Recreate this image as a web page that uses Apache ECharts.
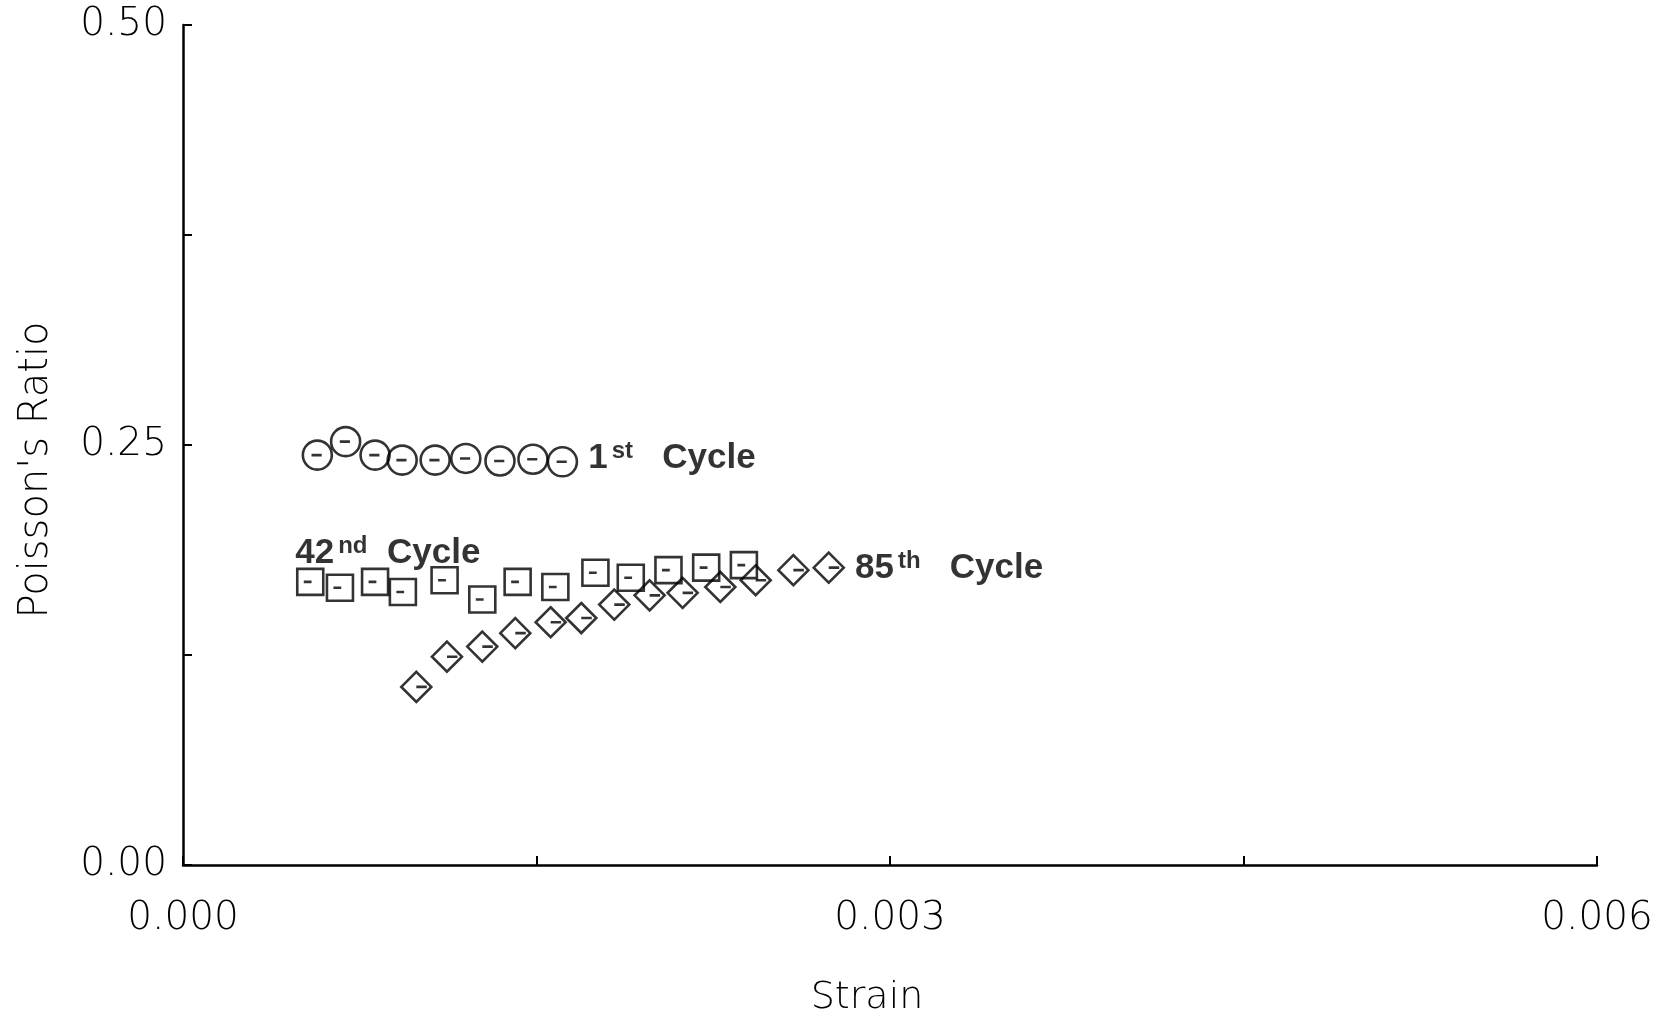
<!DOCTYPE html>
<html>
<head>
<meta charset="utf-8">
<script src="https://cdn.jsdelivr.net/npm/echarts@6/dist/echarts.min.js"></script>
<style>html,body{margin:0;padding:0;background:#fff}#c{width:1665px;height:1019px}</style>
</head>
<body>
<div id="c"></div>
<script>
// Data (strain, Poisson's ratio)
var cycle1Strain = [0.00057, 0.00069, 0.000815, 0.00093, 0.00107, 0.00120, 0.001345, 0.001485, 0.00161];
var cycle1Ratio  = [0.244, 0.252, 0.244, 0.241, 0.241, 0.242, 0.2405, 0.2415, 0.240];

var cycle42Strain = [0.00054, 0.000666, 0.000815, 0.000933, 0.00111, 0.00127, 0.00142, 0.00158, 0.00175, 0.00190, 0.00206, 0.00222, 0.00238];
var cycle42Ratio  = [0.1685, 0.165, 0.1685, 0.1625, 0.1695, 0.158, 0.1685, 0.1655, 0.174, 0.171, 0.1755, 0.177, 0.1785];

var cycle85Strain = [0.00099, 0.00112, 0.00127, 0.00141, 0.00156, 0.00169, 0.00183, 0.00198, 0.00212, 0.00228, 0.00243, 0.00259, 0.00274];
var cycle85Ratio  = [0.106, 0.124, 0.130, 0.138, 0.1445, 0.147, 0.155, 0.1605, 0.162, 0.1655, 0.1695, 0.1755, 0.177];

var xTickLabels = ['0.000', '0.003', '0.006'];
var yTickLabels = ['0.00', '0.25', '0.50'];

var circleSym  = 'path://M0,10 A10,10 0 1,1 20,10 A10,10 0 1,1 0,10 Z M6,10 L13,10';
var squareSym  = 'path://M0,0 L20,0 L20,20 L0,20 Z M5,10 L11,10';
var diamondSym = 'path://M10,0 L20,10 L10,20 L0,10 Z M10,10 L17,10';

var FONT_B = 'Liberation Sans, Arial, Helvetica, sans-serif';
var labelRich = {
  b: {fontFamily: FONT_B, fontWeight: 'bold', fontSize: 35, color: '#000', lineHeight: 36, verticalAlign: 'bottom'},
  s: {fontFamily: FONT_B, fontWeight: 'bold', fontSize: 24, color: '#000', lineHeight: 36, verticalAlign: 'top', padding: [0, 0, 0, 4]}
};

function makeData(xs, ys, labelIdx, label) {
  return xs.map(function (x, i) {
    var d = {value: [x, ys[i]]};
    if (i === labelIdx) d.label = label;
    return d;
  });
}

var FONT_L = 'DejaVu Sans, sans-serif';
var lblStyle = {fontFamily: FONT_L, fontSize: 39, color: '#000', fontWeight: 200};

var chart = echarts.init(document.getElementById('c'), null, {renderer: 'canvas'});
chart.setOption({
  backgroundColor: '#fff',
  animation: false,
  grid: {left: 183, right: 68, top: 25, bottom: 154, containLabel: false, outerBoundsMode: 'none'},
  xAxis: {
    type: 'value', min: 0, max: 0.006, interval: 0.0015,
    name: 'Strain', nameLocation: 'middle', nameGap: 114,
    nameTextStyle: {fontFamily: FONT_L, fontSize: 38, color: '#000', fontWeight: 200, padding: [0, 46, 0, 0]},
    axisLine: {show: true, lineStyle: {color: '#000', width: 2.5}},
    axisTick: {show: true, inside: true, length: 9, lineStyle: {color: '#000', width: 2}},
    splitLine: {show: false},
    axisLabel: Object.assign({margin: 34, formatter: function (v) {
      var k = Math.round(v / 0.003);
      return Math.abs(v / 0.003 - k) < 1e-6 ? xTickLabels[k] : '';
    }}, lblStyle)
  },
  yAxis: {
    type: 'value', min: 0, max: 0.5, interval: 0.125,
    name: "Poisson's Ratio", nameLocation: 'middle', nameGap: 126, nameRotate: 90,
    nameTextStyle: {fontFamily: FONT_L, fontSize: 40, color: '#000', fontWeight: 200, padding: [0, 50, 0, 0]},
    axisLine: {show: true, lineStyle: {color: '#000', width: 2.5}},
    axisTick: {show: true, inside: true, length: 9, lineStyle: {color: '#000', width: 2}},
    splitLine: {show: false},
    axisLabel: Object.assign({margin: 16, formatter: function (v) {
      var k = Math.round(v / 0.25);
      return Math.abs(v / 0.25 - k) < 1e-6 ? yTickLabels[k] : '';
    }}, lblStyle)
  },
  series: [
    {
      name: '1st Cycle', type: 'scatter', symbol: circleSym, symbolSize: 29,
      itemStyle: {color: 'rgba(0,0,0,0)', borderColor: '#000', borderWidth: 2.6},
      data: makeData(cycle1Strain, cycle1Ratio, cycle1Strain.length - 1,
        {show: true, position: 'right', distance: 10, offset: [0, -4], color: '#000', formatter: '{b|1}{s|st}{b|   Cycle}', rich: labelRich})
    },
    {
      name: '42nd Cycle', type: 'scatter', symbol: squareSym, symbolSize: 26,
      itemStyle: {color: 'rgba(0,0,0,0)', borderColor: '#000', borderWidth: 2.6},
      data: makeData(cycle42Strain, cycle42Ratio, 0,
        {show: true, position: 'top', distance: 0, align: 'left', offset: [-15, 3], color: '#000', formatter: '{b|42}{s|nd}{b|  Cycle}', rich: labelRich})
    },
    {
      name: '85th Cycle', type: 'scatter', symbol: diamondSym, symbolSize: 30,
      itemStyle: {color: 'rgba(0,0,0,0)', borderColor: '#000', borderWidth: 2.6},
      data: makeData(cycle85Strain, cycle85Ratio, cycle85Strain.length - 1,
        {show: true, position: 'right', distance: 10, color: '#000', formatter: '{b|85}{s|th}{b|   Cycle}', rich: labelRich})
    }
  ]
});
</script>
</body>
</html>
